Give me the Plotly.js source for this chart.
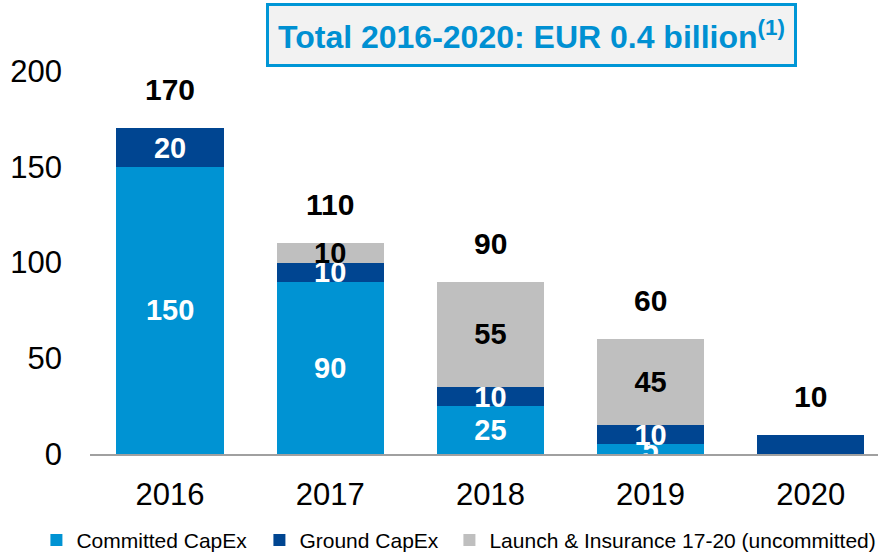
<!DOCTYPE html>
<html>
<head>
<meta charset="utf-8">
<script src="https://cdn.plot.ly/plotly-3.0.1.min.js"></script>
<style>html,body{margin:0;padding:0;background:#fff;}#chart{width:882px;height:553px;}</style>
</head>
<body>
<div id="chart"></div>
<script>
var years = ['2016', '2017', '2018', '2019', '2020'];
var committed = [150, 90, 25, 5, 0];
var ground = [20, 10, 10, 10, 10];
var launch = [0, 10, 55, 45, 0];
var totals = [170, 110, 90, 60, 10];
var committedText = ['150', '90', '25', '5', ''];
var groundText = ['20', '10', '10', '10', ''];
var launchText = ['', '10', '55', '45', ''];
var yTicks = [0, 50, 100, 150, 200];

var FONT = 'Liberation Sans, Arial, sans-serif';

function barTrace(name, vals, txt, color, txtColor, lw) {
  var t = {
    type: 'bar', name: name, x: years, y: vals,
    marker: { color: color, line: { width: 0 } },
    text: txt, textposition: 'inside', insidetextanchor: 'middle',
    textangle: 0, constraintext: 'none',
    textfont: { family: FONT, size: 29, color: txtColor, weight: 'bold' },
    hoverinfo: 'skip'
  };
  if (lw) t.legendwidth = lw;
  return t;
}

var data = [
  barTrace('Committed CapEx', committed, committedText, '#0093d3', '#ffffff', 178),
  barTrace('Ground CapEx', ground, groundText, '#004591', '#ffffff', 145),
  barTrace('Launch &amp; Insurance 17-20 (uncommitted)', launch, launchText, '#bfbfbf', '#000000')
];

var annotations = years.map(function (yr, i) {
  return {
    x: i, y: totals[i], xref: 'x', yref: 'y', text: String(totals[i]),
    showarrow: false, yanchor: 'bottom', yshift: 20,
    font: { family: FONT, size: 30, color: '#000000', weight: 'bold' }
  };
});
annotations.push({
  xref: 'paper', yref: 'paper', x: (531.5 - 90) / 788, y: (454 - 35) / 383,
  xanchor: 'center', yanchor: 'middle', showarrow: false,
  text: 'Total 2016-2020: EUR 0.4 billion<sup>(1)</sup>',
  font: { family: FONT, size: 32, color: '#0090d2', weight: 'bold' },
  bgcolor: '#f2f2f2', bordercolor: '#0096d6', borderwidth: 3, borderpad: 9
});

var layout = {
  width: 882, height: 553,
  margin: { l: 90, r: 4, t: 71, b: 99, autoexpand: false },
  paper_bgcolor: '#ffffff', plot_bgcolor: '#ffffff',
  barmode: 'stack', bargap: 0.33,
  font: { family: FONT, color: '#000000' },
  xaxis: {
    type: 'category', range: [-0.5, 4.42],
    showline: true, linecolor: '#a0a0a0', linewidth: 2,
    showgrid: false, zeroline: false, ticks: '',
    ticklabelstandoff: 12,
    tickfont: { family: FONT, size: 31, color: '#000000' }
  },
  yaxis: {
    range: [0, 200], tickvals: yTicks, ticktext: yTicks.map(String),
    showline: false, showgrid: false, zeroline: false, ticks: '',
    ticklabelstandoff: 27,
    tickfont: { family: FONT, size: 31, color: '#000000' }
  },
  legend: {
    orientation: 'h', x: -0.068, y: -0.172, xanchor: 'left', yanchor: 'top',
    font: { family: FONT, size: 21, color: '#000000' },
    traceorder: 'normal', itemclick: false
  },
  annotations: annotations,
  showlegend: true
};

Plotly.newPlot('chart', data, layout, { staticPlot: true, displayModeBar: false });
</script>
</body>
</html>
